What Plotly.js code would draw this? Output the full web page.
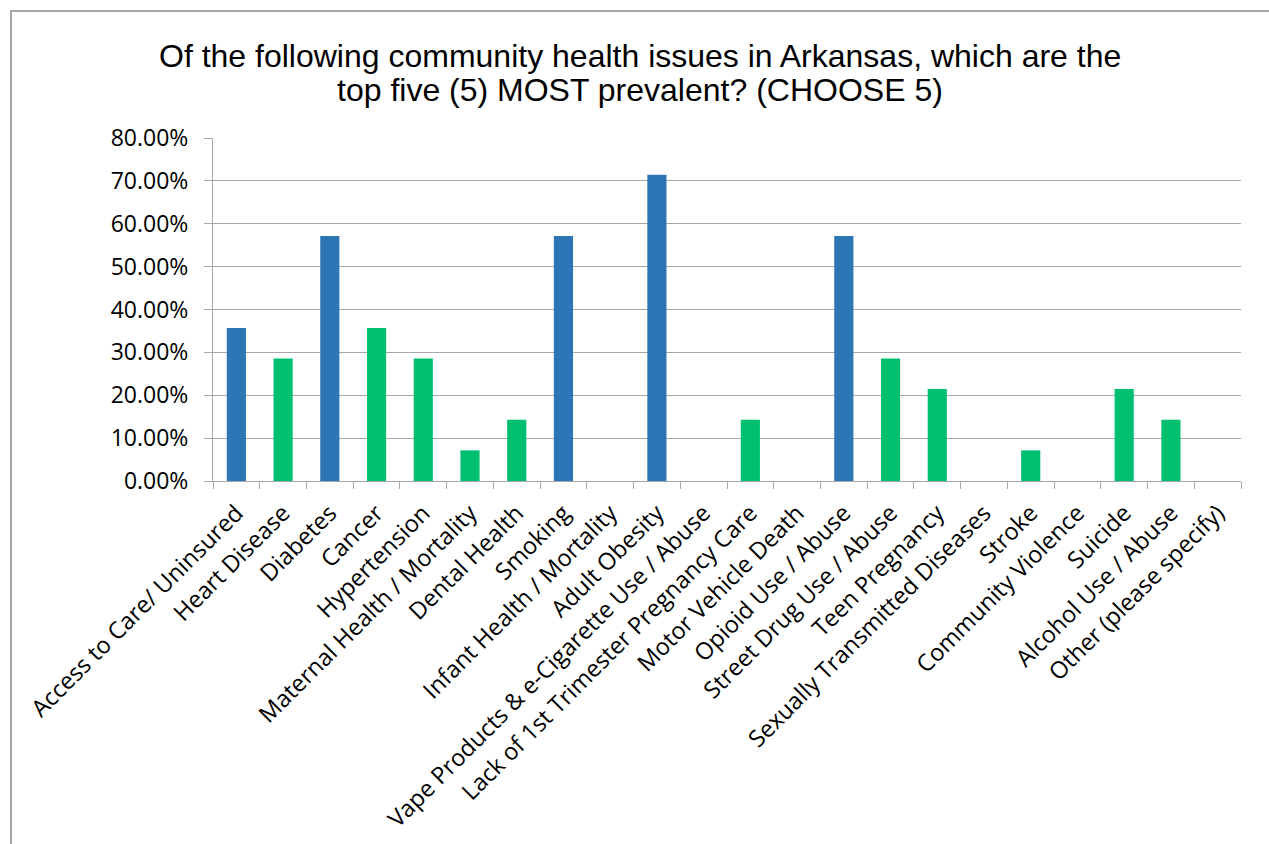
<!DOCTYPE html>
<html>
<head>
<meta charset="utf-8">
<script src="https://cdn.plot.ly/plotly-3.0.1.min.js"></script>
<style>
html,body{margin:0;padding:0;background:#fff;}
#frame{position:absolute;left:10px;top:10px;width:1300px;height:900px;border-left:2px solid #a6a6a6;border-top:2px solid #a6a6a6;box-sizing:border-box;}
#chart{position:absolute;left:0;top:0;width:1269px;height:844px;}
</style>
</head>
<body>
<div id="frame"></div>
<div id="chart"></div>
<script>
const categories = [
  "Access to Care/ Uninsured","Heart Disease","Diabetes","Cancer","Hypertension",
  "Maternal Health / Mortality","Dental Health","Smoking","Infant Health / Mortality",
  "Adult Obesity","Vape Products & e-Cigarette Use / Abuse","Lack of 1st Trimester Pregnancy Care",
  "Motor Vehicle Death","Opioid Use / Abuse","Street Drug Use / Abuse","Teen Pregnancy",
  "Sexually Transmitted Diseases","Stroke","Community Violence","Suicide",
  "Alcohol Use / Abuse","Other (please specify)"
];
const values = [
  0.3571,0.2857,0.5714,0.3571,0.2857,
  0.0714,0.1429,0.5714,0,
  0.7143,0,0.1429,
  0,0.5714,0.2857,0.2143,
  0,0.0714,0,0.2143,
  0.1429,0
];
const highlighted = ["Access to Care/ Uninsured","Diabetes","Smoking","Adult Obesity","Opioid Use / Abuse"];
const yTicks = [0,0.1,0.2,0.3,0.4,0.5,0.6,0.7,0.8];
const titleLines = [
  "Of the following community health issues in Arkansas, which are the",
  "top five (5) MOST prevalent? (CHOOSE 5)"
];

const BLUE = "#2E75B6", GREEN = "#00C06F";
const colors = categories.map(c => highlighted.includes(c) ? BLUE : GREEN);

const trace = {
  type: "bar",
  x: categories,
  y: values,
  marker: {color: colors},
  width: 0.41,
  hoverinfo: "x+y"
};

const titleFont = {family: "Liberation Sans, Arial, sans-serif", size: 32, color: "#000"};

const layout = {
  width: 1269, height: 844,
  paper_bgcolor: "rgba(0,0,0,0)",
  plot_bgcolor: "rgba(0,0,0,0)",
  margin: {l: 213, r: 28, t: 138, b: 363},
  showlegend: false,
  annotations: [
    {text: titleLines[0], xref: "paper", yref: "paper", x: 0.415, y: 1.240, xanchor: "center", yanchor: "middle", showarrow: false, font: titleFont},
    {text: titleLines[1], xref: "paper", yref: "paper", x: 0.415, y: 1.140, xanchor: "center", yanchor: "middle", showarrow: false, font: titleFont}
  ],
  xaxis: {
    type: "category",
    tickangle: -45,
    tickson: "boundaries",
    ticks: "outside", ticklen: 7, tickcolor: "#a6a6a6", tickwidth: 1,
    ticklabelstandoff: 8,
    showline: true, linecolor: "#a6a6a6", linewidth: 1,
    showgrid: false,
    tickfont: {family: "'Open Sans', sans-serif", size: 23.5, color: "#000"},
    automargin: false
  },
  yaxis: {
    range: [0, 0.8],
    tickvals: yTicks,
    tickformat: ".2%",
    ticks: "outside", ticklen: 8, tickcolor: "#a6a6a6",
    ticklabelstandoff: 11,
    showline: true, linecolor: "#a6a6a6", linewidth: 1,
    showgrid: true, gridcolor: "#a6a6a6", gridwidth: 1,
    zeroline: false,
    tickfont: {family: "'Open Sans', sans-serif", size: 23, color: "#000"},
    automargin: false
  }
};

Plotly.newPlot("chart", [trace], layout, {displayModeBar: false, staticPlot: true});
</script>
</body>
</html>
